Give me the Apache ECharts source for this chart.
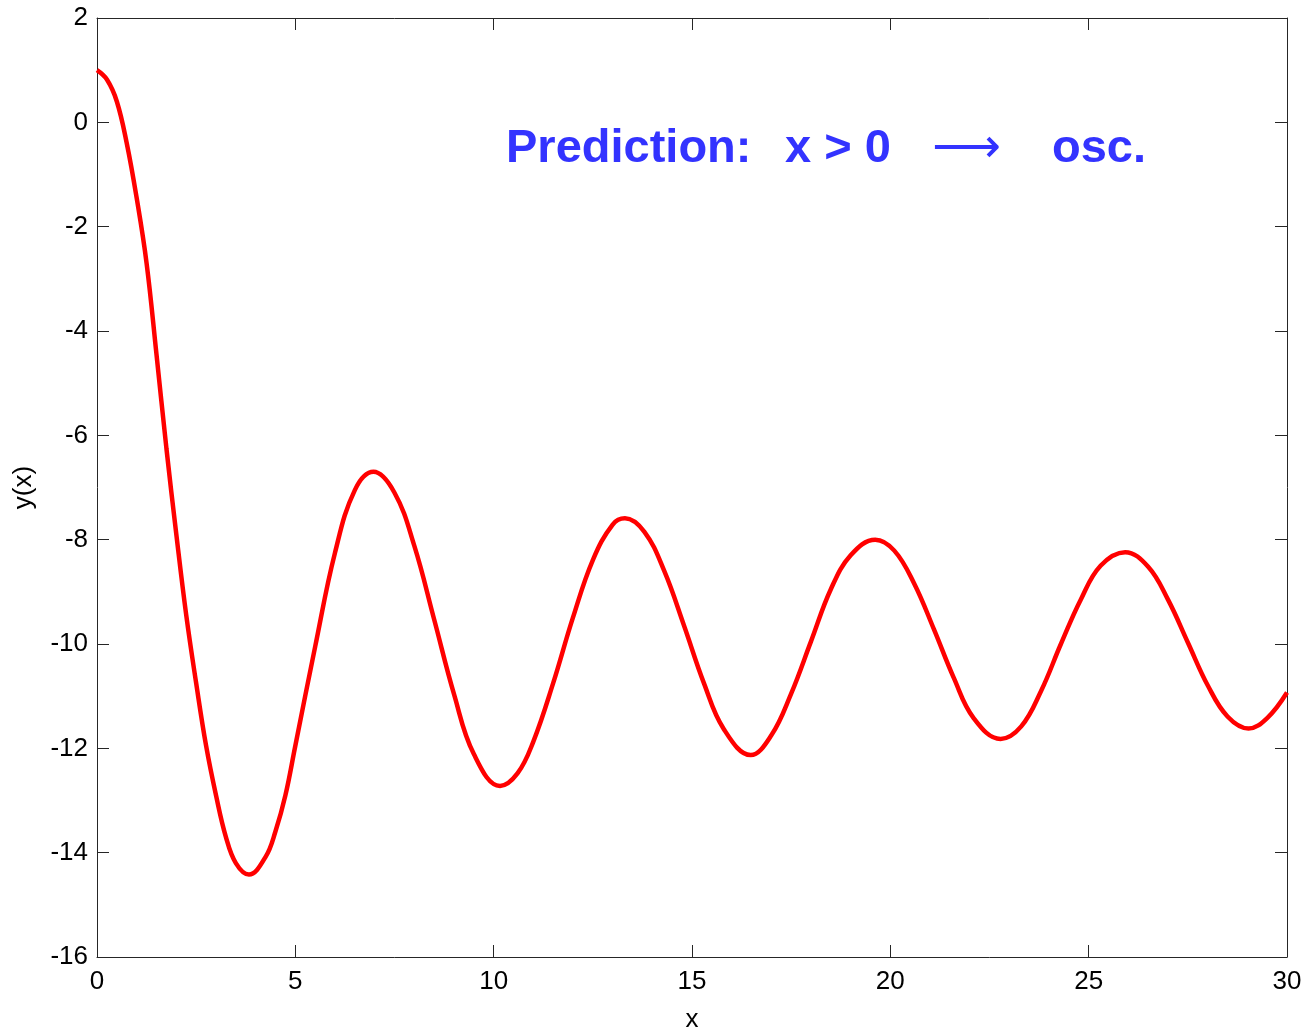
<!DOCTYPE html>
<html>
<head>
<meta charset="utf-8">
<script src="https://cdn.jsdelivr.net/npm/echarts@6/dist/echarts.min.js"></script>
<style>
html,body{margin:0;padding:0;background:#fff;}
#c{width:1308px;height:1034px;}
</style>
</head>
<body>
<div id="c"></div>
<script>
// x values and y(x) values
const xs = [0, 0.25, 0.5, 0.75, 1.0, 1.25, 1.5, 1.75, 2.0, 2.25, 2.5, 2.75, 3.0, 3.25, 3.5, 3.83,
  4.25, 4.5, 4.75, 5.0, 5.5, 6.0, 6.5, 6.97, 7.5, 8.0, 8.5, 9.0, 9.5, 10.16,
  10.6, 11.0, 11.5, 12.0, 12.5, 13.0, 13.31, 13.8, 14.3, 14.8, 15.3, 15.8, 16.48,
  17.0, 17.5, 18.0, 18.5, 19.0, 19.62, 20.1, 20.6, 21.1, 21.6, 22.1, 22.78,
  23.3, 23.8, 24.3, 24.8, 25.3, 25.92, 26.5, 27.0, 27.5, 28.0, 28.5, 29.03, 29.5, 30];
const ys = [1.0, 0.82, 0.4, -0.4, -1.45, -2.7, -4.45, -6.25, -7.9, -9.45, -10.75, -11.95, -12.9, -13.7, -14.2, -14.42,
  -14.08, -13.59, -12.9, -11.95, -10.05, -8.25, -7.05, -6.7, -7.1, -8.12, -9.53, -10.96, -12.11, -12.72,
  -12.48, -11.87, -10.75, -9.49, -8.39, -7.71, -7.59, -7.85, -8.6, -9.65, -10.75, -11.63, -12.13,
  -11.75, -10.95, -9.95, -8.95, -8.3, -8.0, -8.21, -8.84, -9.72, -10.65, -11.42, -11.82,
  -11.58, -10.9, -10.0, -9.15, -8.5, -8.24, -8.52, -9.15, -9.97, -10.79, -11.39, -11.62, -11.42, -10.93];
const xTicks = [0, 5, 10, 15, 20, 25, 30];
const yTicks = [-16, -14, -12, -10, -8, -6, -4, -2, 0, 2];
const annotationParts = ['Prediction:', 'x > 0', '\u27F6', 'osc.'];
const xName = 'x';
const yName = 'y(x)';

const data = xs.map((x, i) => [x, ys[i]]);
const font = '"Liberation Sans", Arial, Helvetica, sans-serif';
const axisColor = '#262626';

const chart = echarts.init(document.getElementById('c'), null, {renderer: 'canvas'});

function xAxisCfg(pos, showLabel) {
  return {
    type: 'value', position: pos, min: xTicks[0], max: xTicks[xTicks.length - 1], interval: 5,
    name: showLabel ? xName : '', nameLocation: 'middle', nameGap: 50,
    nameTextStyle: {fontFamily: font, fontSize: 26, color: '#000'},
    axisLine: {show: true, onZero: false, lineStyle: {color: axisColor, width: 1}},
    axisTick: {show: true, inside: true, length: 12, lineStyle: {color: axisColor, width: 1}},
    axisLabel: {show: showLabel, fontFamily: font, fontSize: 26, color: '#000', margin: 12},
    splitLine: {show: false}
  };
}
function yAxisCfg(pos, showLabel) {
  return {
    type: 'value', position: pos, min: yTicks[0], max: yTicks[yTicks.length - 1], interval: 2,
    name: showLabel ? yName : '', nameLocation: 'middle', nameGap: 60,
    nameTextStyle: {fontFamily: font, fontSize: 26, color: '#000'},
    axisLine: {show: true, onZero: false, lineStyle: {color: axisColor, width: 1}},
    axisTick: {show: true, inside: true, length: 12, lineStyle: {color: axisColor, width: 1}},
    axisLabel: {show: showLabel, fontFamily: font, fontSize: 26, color: '#000', margin: 9},
    splitLine: {show: false}
  };
}

chart.setOption({
  animation: false,
  backgroundColor: '#fff',
  grid: {left: 97, right: 21, top: 18, bottom: 77, containLabel: false, outerBoundsMode: 'none'},
  xAxis: [xAxisCfg('bottom', true), xAxisCfg('top', false)],
  yAxis: [yAxisCfg('left', true), yAxisCfg('right', false)],
  series: [{
    type: 'line', xAxisIndex: 0, yAxisIndex: 0, data: data,
    showSymbol: false, smooth: 0.4,
    lineStyle: {color: '#ff0000', width: 4.5},
    itemStyle: {color: '#ff0000'}
  }],
  graphic: [
    {type: 'text', left: 506, top: 126, style: {text: annotationParts[0], font: 'bold 47px ' + font, fill: '#3333ff'}},
    {type: 'text', left: 785, top: 126, style: {text: annotationParts[1], font: 'bold 47px ' + font, fill: '#3333ff'}},
    {type: 'text', left: 932, top: 126, style: {text: annotationParts[2], font: '48px "DejaVu Sans", sans-serif', fill: '#3333ff'}},
    {type: 'text', left: 1052, top: 126, style: {text: annotationParts[3], font: 'bold 47px ' + font, fill: '#3333ff'}}
  ]
});
</script>
</body>
</html>
